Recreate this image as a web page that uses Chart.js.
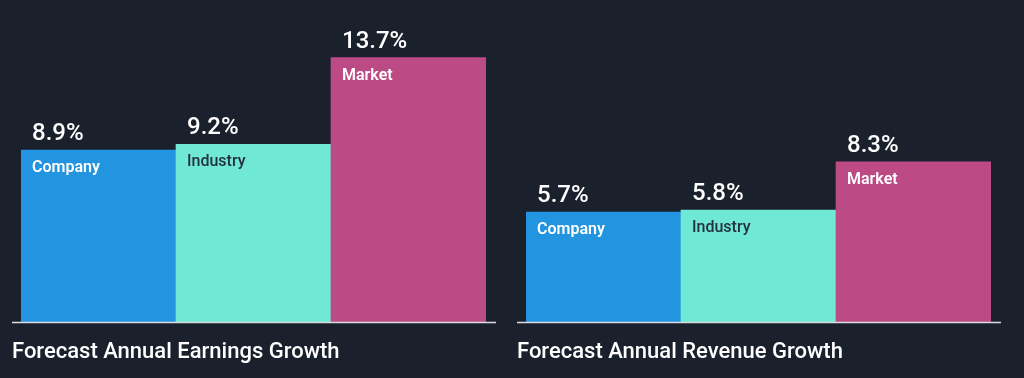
<!DOCTYPE html>
<html>
<head>
<meta charset="utf-8">
<script src="https://cdn.jsdelivr.net/npm/chart.js@4.4.1/dist/chart.umd.min.js"></script>
<style>
  html, body { margin: 0; padding: 0; background: #1b202d; width: 1024px; height: 378px; overflow: hidden; }
  .wrap { position: absolute; top: 0; width: 512px; height: 378px; }
  #w1 { left: 0; }
  #w2 { left: 512px; }
</style>
</head>
<body>
<div class="wrap" id="w1"><canvas id="c1"></canvas></div>
<div class="wrap" id="w2"><canvas id="c2"></canvas></div>
<script>
const categories = ['Company', 'Industry', 'Market'];
const earningsGrowth = [8.9, 9.2, 13.7];
const revenueGrowth = [5.7, 5.8, 8.3];
const chartTitles = ['Forecast Annual Earnings Growth', 'Forecast Annual Revenue Growth'];
const barColors = ['#2394df', '#6fe8d6', '#bc4a85'];
const labelColors = ['#ffffff', '#26303d', '#ffffff'];
const labelWeights = ['600', '500', '600'];
const yMax = 16.68;

const FONT = 'Roboto, "Noto Sans", sans-serif';

const overlay = {
  id: 'overlay',
  afterDatasetsDraw(chart, args, opts) {
    const ctx = chart.ctx;
    const area = chart.chartArea;
    const meta = chart.getDatasetMeta(0);
    const data = chart.data.datasets[0].data;
    ctx.save();
    // baseline axis line
    ctx.strokeStyle = '#d9dce0';
    ctx.lineWidth = 1.5;
    ctx.beginPath();
    ctx.moveTo(area.left - 9, area.bottom + 0.5);
    ctx.lineTo(area.right + 10, area.bottom + 0.5);
    ctx.stroke();
    meta.data.forEach((bar, i) => {
      const left = bar.x - bar.width / 2;
      // value label
      ctx.fillStyle = '#ffffff';
      ctx.font = '500 24px ' + FONT;
      ctx.textAlign = 'left';
      ctx.textBaseline = 'alphabetic';
      ctx.fillText(data[i].toFixed(1) + '%', left + 11, bar.y - 10);
      // category label inside bar
      ctx.fillStyle = labelColors[i];
      ctx.font = labelWeights[i] + ' 16px ' + FONT;
      ctx.fillText(chart.data.labels[i], left + 11, bar.y + 22);
    });
    // chart title below the axis
    ctx.fillStyle = '#ffffff';
    ctx.font = '500 22px ' + FONT;
    ctx.textAlign = 'left';
    ctx.fillText(opts.title, area.left - 9, area.bottom + 36);
    ctx.restore();
  }
};

function makeChart(id, values, title, padLeft, padRight) {
  return new Chart(document.getElementById(id), {
    type: 'bar',
    data: {
      labels: categories,
      datasets: [{
        data: values,
        backgroundColor: barColors,
        borderWidth: 0,
        barPercentage: 1,
        categoryPercentage: 1
      }]
    },
    options: {
      responsive: true,
      maintainAspectRatio: false,
      animation: false,
      devicePixelRatio: 1,
      layout: { padding: { left: padLeft, right: padRight, top: 0, bottom: 56 } },
      plugins: {
        legend: { display: false },
        tooltip: { enabled: false },
        overlay: { title: title }
      },
      scales: {
        x: { display: false },
        y: { display: false, min: 0, max: yMax }
      }
    },
    plugins: [overlay]
  });
}

makeChart('c1', earningsGrowth, chartTitles[0], 21, 26);
makeChart('c2', revenueGrowth, chartTitles[1], 14, 33);
</script>
</body>
</html>
